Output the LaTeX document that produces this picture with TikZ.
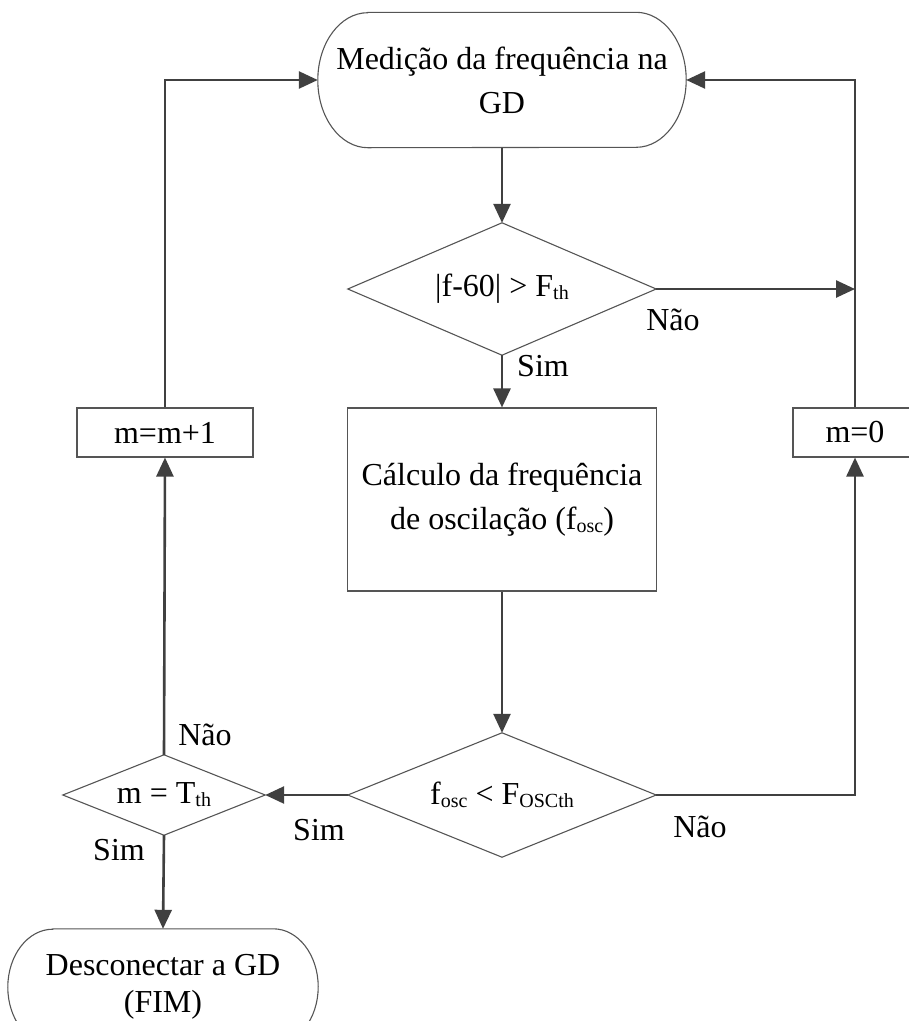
\documentclass[tikz,border=0pt]{standalone}
\usepackage{fontspec}
\setmainfont{Liberation Serif}
\usetikzlibrary{arrows.meta}
% small lowered index used in the formulas
\newcommand\lsub[1]{\raisebox{-3pt}{\fontsize{20}{20}\selectfont #1}}
\definecolor{conncol}{HTML}{404040}
\definecolor{outline}{HTML}{555555}
\begin{document}
\begin{tikzpicture}[x=1pt,y=1pt,
  txt/.style={font=\fontsize{32}{44}\selectfont, align=center, inner sep=0pt},
  block/.style={txt, rectangle, draw=outline, line width=1.1pt},
  hidden/.style={txt, rectangle, draw=none},
  frame/.style={draw=outline, line width=1.1pt},
  conn/.style={draw=conncol, line width=2.6pt, -{Triangle[length=19pt,width=17pt]}},
  lbl/.style={font=\fontsize{32}{36}\selectfont, inner sep=0pt}]
\useasboundingbox (0,0) rectangle (909,-1021);
\clip (0,0) rectangle (909,-1021);

% terminals (stadium outlines are drawn below)
\node[hidden, minimum width=368pt, minimum height=135pt] (start) at (502,-80)
  {Medição da frequência na\\GD};
\node[hidden, minimum width=310pt, minimum height=116pt,
      font=\fontsize{32}{37}\selectfont] (finish) at (163,-987)
  {Desconectar a GD\\(FIM)};

% decisions (diamond outlines drawn below)
\node[hidden, minimum width=308pt, minimum height=132pt] (d1) at (502,-289)
  {|f-60| > F\lsub{th}};
\node[hidden, minimum width=308pt, minimum height=124pt] (d2) at (502,-795)
  {f\lsub{osc} < F\lsub{OSCth}};
\node[hidden, minimum width=202pt, minimum height=80pt] (d3) at (164,-795)
  {m = T\lsub{th}};

% processes
\node[block, minimum width=309pt, minimum height=183pt] (calc) at (502,-499.5)
  {Cálculo da frequência\\de oscilação (f\lsub{osc})};
\node[block, minimum width=176pt, minimum height=49pt] (inc) at (165,-432.5) {m=m+1};
\node[block, minimum width=124pt, minimum height=49pt] (zero) at (855,-432.5) {m=0};

% stadium outlines
\draw[frame] ([xshift=50pt]start.north west) -- ([xshift=-50pt]start.north east)
  arc[start angle=90, end angle=-90, x radius=50pt, y radius=67.5pt]
  -- ([xshift=50pt]start.south west)
  arc[start angle=270, end angle=90, x radius=50pt, y radius=67.5pt] -- cycle;
\draw[frame] ([xshift=45pt]finish.north west) -- ([xshift=-45pt]finish.north east)
  arc[start angle=90, end angle=-90, x radius=45pt, y radius=58pt]
  -- ([xshift=45pt]finish.south west)
  arc[start angle=270, end angle=90, x radius=45pt, y radius=58pt] -- cycle;

% diamond outlines
\foreach \d in {d1,d2,d3}
  \draw[frame] (\d.north) -- (\d.east) -- (\d.south) -- (\d.west) -- cycle;

% connectors
\draw[conn] (start.south) -- (d1.north);
\draw[conn] (d1.south) -- (calc.north);
\draw[conn] (d1.east) -- (d1.east -| zero.north);
\draw[conn] (calc.south) -- (d2.north);
\draw[conn] (d2.west) -- (d3.east);
\draw[conn] (d2.east) -| (zero.south);
\draw[conn] (zero.north) |- (start.east);
\draw[conn] (d3.north) -- (inc.south);
\draw[conn] (inc.north) |- (start.west);
\draw[conn] (d3.south) -- (finish.north);

% branch labels
\node[lbl] (l1) at (673,-320) {Não};
\node[lbl] (l2) at (543,-366) {Sim};
\node[lbl] (l3) at (700,-827) {Não};
\node[lbl] (l4) at (319,-830) {Sim};
\node[lbl] (l5) at (205,-735) {Não};
\node[lbl] (l6) at (119,-850) {Sim};
\end{tikzpicture}
\end{document}
